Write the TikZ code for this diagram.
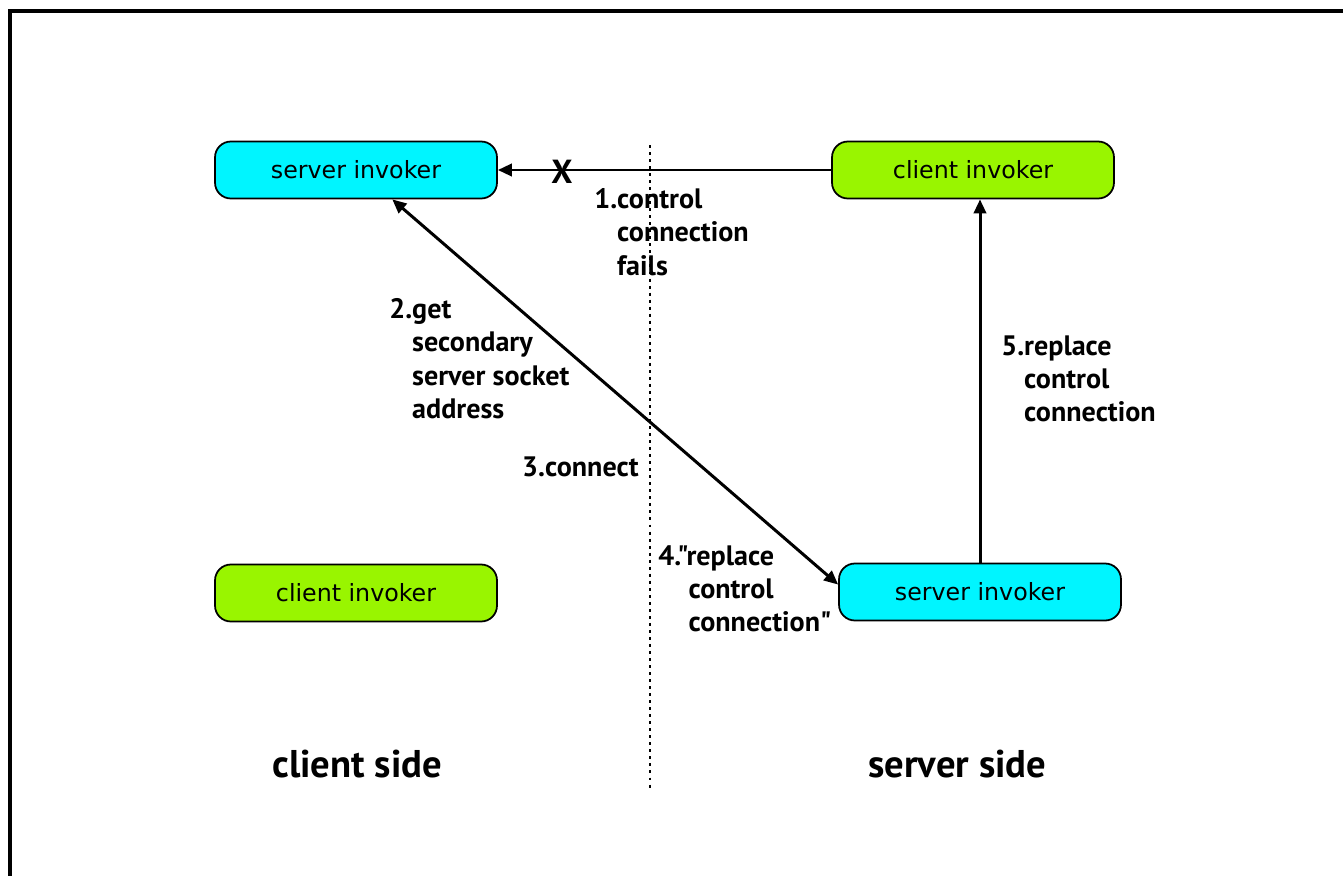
\documentclass[tikz,border=0pt]{standalone}
\usepackage{fontspec}
\usetikzlibrary{arrows,arrows.meta}
\usetikzlibrary{calc}
\newfontfamily\boxfont{DejaVu Sans}
\newfontfamily\stepfont{PT Sans}
\definecolor{invcyan}{RGB}{0,245,255}
\definecolor{invgreen}{RGB}{153,245,0}

\begin{document}
\begin{tikzpicture}[x=0.02cm, y=-0.02cm,
	invoker/.style={draw=black, line width=1pt, rounded corners=9pt, minimum width=5.64cm, minimum height=1.14cm, inner sep=0pt, font=\boxfont\fontsize{13.5}{15}\selectfont},
	steplabel/.style={anchor=north west, inner sep=0pt, align=left, font=\stepfont\bfseries\fontsize{16}{19}\selectfont},
	sidelabel/.style={anchor=base west, inner sep=0pt, font=\stepfont\bfseries\fontsize{22}{26}\selectfont},
	flow/.style={line width=1.7pt, -{Triangle[length=8pt,width=7pt]}},
	]

	\useasboundingbox (0,0) rectangle (1343,876);

	% frame
	\draw[line width=2.3pt] (10,876) -- (10,11) -- (1343,11);

	% client / server divider
	\coordinate (divtop) at (650,145);
	\coordinate (divbot) at (650,790);
	\draw[line width=1.3pt, dash pattern=on 1.7pt off 2.3pt] (divtop) -- (divbot);

	\node[invoker, fill=invcyan] (sinvL) at (356,170) {server invoker};
	\node[invoker, fill=invgreen] (cinvR) at (973,170) {client invoker};
	\node[invoker, fill=invgreen] (cinvL) at (356,593) {client invoker};
	\node[invoker, fill=invcyan] (sinvR) at (980,592) {server invoker};

	\draw[flow] (cinvR.west) -- (sinvL.east);
	\node[inner sep=0pt, font=\stepfont\bfseries\fontsize{19}{20}\selectfont] (brk) at (562,172) {X};
	\draw[flow, {Triangle[length=8pt,width=7pt]}-{Triangle[length=8pt,width=7pt]}] (sinvL.-39) -- (sinvR.177);
	\draw[flow] (sinvR.north) -- (sinvR.north |- cinvR.south);

	\node[steplabel] (step1) at (594,188) {1.control\\\phantom{1.}connection\\\phantom{1.}fails};
	\node[steplabel] (step2) at (389,298) {2.get\\\phantom{2.}secondary\\\phantom{2.}server socket\\\phantom{2.}address};
	\node[steplabel, anchor=north east] (step3) at (639,456) {3.connect};
	\node[steplabel] (step4) at (658,545) {4."replace\\\phantom{4."}control\\\phantom{4."}connection"};
	\node[steplabel] (step5) at (1001,335) {5.replace\\\phantom{5.}control\\\phantom{5.}connection};

	\node[sidelabel] (cside) at (272,777) {client side};
	\node[sidelabel] (sside) at (868,777) {server side};

\end{tikzpicture}
\end{document}
